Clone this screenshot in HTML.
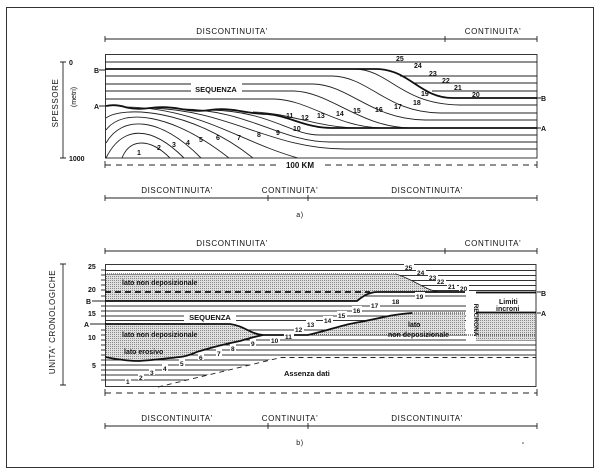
<!DOCTYPE html>
<html><head><meta charset="utf-8"><style>
html,body{margin:0;padding:0;background:#fff}
svg{display:block}
text{font-family:"Liberation Sans",sans-serif;fill:#111}
.t{font-size:8px;letter-spacing:0.6px}
.n{font-size:7px;font-weight:bold}
.b{font-size:7px;font-weight:bold}
</style></head><body>
<svg width="600" height="470" viewBox="0 0 600 470" xmlns="http://www.w3.org/2000/svg">
<defs>
<pattern id="dots" width="2" height="2" patternUnits="userSpaceOnUse">
<rect width="2" height="2" fill="#e0e0e0"/><rect width="1" height="1" fill="#8a8a8a"/>
</pattern>
</defs>
<rect x="6.5" y="7.5" width="587" height="460" fill="none" stroke="#333" stroke-width="1"/>

<!-- ========== PANEL A ========== -->
<g stroke="#222" fill="none" stroke-width="0.9">
<path d="M105,39 H537 M105,36 V42 M445,36 V42 M537,36 V42"/>
<path d="M105,198 H537 M105,195 V201 M268,195 V201 M308,195 V201 M537,195 V201"/>
<path d="M63,62 V158 M60,62 H66 M60,158 H66"/>
<path d="M105,165 H537" stroke-dasharray="6,5"/>
<path d="M105,161 V168 M537,161 V168"/>
</g>
<text class="t" x="232" y="34" text-anchor="middle">DISCONTINUITA'</text>
<text class="t" x="493" y="34" text-anchor="middle">CONTINUITA'</text>
<text class="t" x="177" y="193" text-anchor="middle">DISCONTINUITA'</text>
<text class="t" x="290" y="193" text-anchor="middle">CONTINUITA'</text>
<text class="t" x="427" y="193" text-anchor="middle">DISCONTINUITA'</text>
<text class="t" x="300" y="217" text-anchor="middle" style="font-size:7px">a)</text>
<text class="t" x="58" y="103" text-anchor="middle" transform="rotate(-90 58 103)">SPESSORE</text>
<text x="76" y="97" text-anchor="middle" transform="rotate(-90 76 97)" style="font-size:7px">(metri)</text>
<text class="n" x="69" y="65">0</text>
<text class="n" x="69" y="161">1000</text>
<text class="n" x="94" y="73">B</text>
<text class="n" x="94" y="109">A</text>
<text class="n" x="541" y="101">B</text>
<text class="n" x="541" y="131">A</text>
<path d="M99,70 H105 M99,106 H105 M537,98 H541 M537,128 H541" stroke="#222"/>
<rect x="276" y="160" width="48" height="10" fill="#fff"/>
<text class="n" x="300" y="168" text-anchor="middle" style="font-size:8px">100 KM</text>

<g stroke="#222" fill="none" stroke-width="0.9">
<rect x="105.5" y="54.5" width="431.5" height="103.5"/>
<path d="M105,62 H537"/>
<path d="M105,76 H332 M105,84 H313 M105,91 H294 M105,99 H274"/>
<path d="M400,76 H537 M415,83 H537 M432,91 H537"/>
<path d="M460,105 H537 M440,113 H537 M425,120 H537 M320,135 H537 M330,142 H537 M345,149 H537"/>
<!-- upper curves -->
<path d="M355,69 C390,70 400,104 460,105"/>
<path d="M332,76 C370,77 385,112 440,113"/>
<path d="M313,84 C350,85 370,119 425,120"/>
<path d="M294,91 C330,92 360,127 410,128"/>
<path d="M274,99 C310,100 335,127 382,128"/>
<path d="M253,112 C290,113 315,127 357,128"/>
<!-- lower arches -->
<path d="M122,158 C130,138 150,138 170,158"/>
<path d="M106,158 C122,126 150,124 184,158"/>
<path d="M106,143 C122,115 160,116 201,158"/>
<path d="M106,130 C122,108 170,112 229,158"/>
<path d="M106,118 C122,106 190,108 253,158"/>
<path d="M125,107 C200,108 240,142 298,158"/>
<path d="M150,108 C230,110 270,149 345,149"/>
<path d="M181,109 C250,110 280,142 330,142"/>
<path d="M210,110 C270,111 290,135 320,135"/>
</g>
<rect x="191" y="83" width="51" height="11" fill="#fff"/>
<text class="b" x="216" y="92" text-anchor="middle" style="font-size:7.5px">SEQUENZA</text>
<g stroke="#111" fill="none" stroke-width="1.8">
<path d="M105,69 H377 C410,70 420,98 453,98 H537"/>
<path d="M106,106 Q115,104 125,107 T150,108 T181,109 T210,110 T240,111 T267,114 C290,116 305,128 332,128 H537"/>
</g>
<g class="n">
<text x="137" y="155">1</text><text x="157" y="150">2</text><text x="172" y="147">3</text><text x="186" y="145">4</text>
<text x="199" y="142">5</text><text x="216" y="140">6</text><text x="237" y="140">7</text><text x="257" y="137">8</text>
<text x="276" y="135">9</text><text x="293" y="131">10</text><text x="286" y="118">11</text><text x="301" y="120">12</text>
<text x="317" y="118">13</text><text x="336" y="116">14</text><text x="353" y="113">15</text><text x="375" y="112">16</text>
<text x="394" y="109">17</text><text x="413" y="105">18</text><text x="421" y="96">19</text><text x="472" y="97">20</text>
<text x="454" y="90">21</text><text x="442" y="83">22</text><text x="429" y="76">23</text><text x="414" y="68">24</text>
<text x="396" y="61">25</text>
</g>

<!-- ========== PANEL B ========== -->
<g stroke="#222" fill="none" stroke-width="0.9">
<path d="M105,251 H537 M105,248 V254 M445,248 V254 M537,248 V254"/>
<path d="M105,426 H537 M105,423 V429 M268,423 V429 M308,423 V429 M537,423 V429"/>
<path d="M63,264 V385 M60,264 H66 M60,385 H66"/>
<path d="M105,393 H537" stroke-dasharray="6,5"/>
<path d="M105,389 V396 M537,389 V396"/>
</g>
<text class="t" x="232" y="246" text-anchor="middle">DISCONTINUITA'</text>
<text class="t" x="493" y="246" text-anchor="middle">CONTINUITA'</text>
<text class="t" x="177" y="421" text-anchor="middle">DISCONTINUITA'</text>
<text class="t" x="290" y="421" text-anchor="middle">CONTINUITA'</text>
<text class="t" x="427" y="421" text-anchor="middle">DISCONTINUITA'</text>
<text class="t" x="300" y="445" text-anchor="middle" style="font-size:7px">b)</text>
<circle cx="523" cy="443" r="0.8" fill="#444"/>
<text class="t" x="55" y="322" text-anchor="middle" transform="rotate(-90 55 322)">UNITA' CRONOLOGICHE</text>
<g class="n">
<text x="88" y="269">25</text><text x="88" y="292">20</text><text x="86" y="304">B</text><text x="88" y="316">15</text>
<text x="84" y="327">A</text><text x="88" y="340">10</text><text x="92" y="368">5</text>
<text x="541" y="296">B</text><text x="541" y="316">A</text>
</g>
<path d="M92,301 H105 M90,324 H105 M537,292 H541 M537,313 H541" stroke="#222"/>
<!-- rows -->
<g stroke="#333" stroke-width="1.1">
<path d="M105,270.5 H536 M105,275.5 H536 M105,280.5 H536 M105,285.5 H536 M105,290.5 H536 M105,296 H536 M105,306 H536 M105,311 H536 M105,316 H536 M105,320.5 H536 M105,330 H536 M105,335 H536 M105,340 H536 M105,345 H536 M105,350 H536 M105,355 H536 M105,360 H536 M105,365 H536 M105,370 H536 M105,375 H536 M105,380 H536"/>
<path d="M101,270 H105 M101,275 H105 M101,280 H105 M101,285 H105 M101,290 H105 M101,296 H105 M101,306 H105 M101,311 H105 M101,316 H105 M101,330 H105 M101,335 H105 M101,340 H105 M101,345 H105 M101,350 H105 M101,355 H105 M101,360 H105 M101,365 H105 M101,370 H105 M101,375 H105 M101,380 H105"/>
</g>
<!-- stipple regions -->
<g fill="url(#dots)" stroke="none">
<path d="M105,274 H396 C415,280 425,290 439,292 H378 C368,292 362,297 357,301 H105 Z"/>
<path d="M105,324 H230 C245,326 250,334 263,335 C258,336 250,338 240,341 C225,344 210,348 200,351 C195,352 190,356 180,357 C170,358 155,360 139,361 C130,361 120,360 105,357 Z"/>
<path d="M308,335 C330,330 345,324 360,322 C380,318 395,314 412,313 H465 V335 Z"/>
<path d="M476,313 H536 V340 H476 Z"/>
</g>
<!-- assenza dati -->
<path d="M158,387 L281,357 H536 V386 H158 Z" fill="#fff"/>
<rect x="466" y="294" width="10" height="50" fill="#fff"/>
<rect x="476" y="294" width="60" height="18" fill="#fff"/>
<g stroke="#222" fill="none" stroke-width="0.9">
<rect x="105.5" y="264.5" width="430.5" height="122"/>
<path d="M158,387 L281,357.5 H536" stroke-dasharray="5,4"/>
<path d="M105,274 H396" stroke-dasharray="1,1"/>
<path d="M396,274 C415,280 425,290 439,292"/>
<path d="M412,313 H465 M308,335 H536" stroke-dasharray="1,1"/>
</g>
<g stroke="#111" fill="none" stroke-width="1.8">
<path d="M105,292 H370" stroke-dasharray="6,4"/>
<path d="M105,301 H357 C362,297 368,292 378,292 H465 M476,292.5 H536"/>
<path d="M105,324 H230 C245,326 250,334 263,335 H308 C330,330 345,324 360,322 C380,318 395,314 412,313 M476,312.5 H536"/>
<path d="M105,357 C120,360 130,361 139,361 C155,360 170,358 180,357 C190,356 195,352 200,351 C210,348 225,344 240,341 C250,338 258,336 263,335"/>
</g>
<rect x="184" y="312" width="52" height="10" fill="#fff"/>
<text class="b" x="210" y="320" text-anchor="middle" style="font-size:7.5px">SEQUENZA</text>
<g class="b">
<text x="122" y="285">lato non deposizionale</text>
<text x="122" y="337">lato non deposizionale</text>
<text x="124" y="354">lato erosivo</text>
<text x="408" y="327">lato</text>
<text x="388" y="337">non deposizionale</text>
<text x="284" y="376" style="font-size:7.5px">Assenza dati</text>
<text x="499" y="304">Limiti</text>
<text x="496" y="311" text-decoration="underline">incroni</text>
<text x="474" y="320" text-anchor="middle" transform="rotate(90 474 320)" style="font-size:6.5px">RECRONA</text>
</g>
<g class="n" style="font-size:6.5px">
<g fill="#fff">
<rect x="125" y="377" width="6" height="7"/><rect x="138" y="373" width="6" height="7"/><rect x="149" y="368" width="6" height="7"/>
<rect x="162" y="364" width="6" height="7"/><rect x="179" y="359" width="6" height="7"/><rect x="198" y="353" width="6" height="7"/>
<rect x="216" y="349" width="6" height="7"/><rect x="230" y="344" width="6" height="7"/><rect x="250" y="339" width="6" height="7"/>
<rect x="270" y="336" width="10" height="7"/><rect x="284" y="332" width="10" height="7"/><rect x="294" y="325" width="10" height="7"/>
<rect x="306" y="320" width="10" height="7"/><rect x="323" y="316" width="10" height="7"/><rect x="337" y="311" width="10" height="7"/>
<rect x="352" y="306" width="10" height="7"/><rect x="370" y="301" width="10" height="7"/><rect x="391" y="297" width="10" height="7"/>
<rect x="415" y="292" width="10" height="7"/><rect x="459" y="284" width="10" height="7"/><rect x="447" y="282" width="10" height="7"/>
<rect x="436" y="277" width="10" height="7"/><rect x="428" y="273" width="10" height="7"/><rect x="416" y="268" width="10" height="7"/>
<rect x="404" y="263" width="10" height="7"/>
</g>
<text x="126" y="384">1</text><text x="139" y="380">2</text><text x="150" y="375">3</text><text x="163" y="371">4</text>
<text x="180" y="366">5</text><text x="199" y="360">6</text><text x="217" y="356">7</text><text x="231" y="351">8</text>
<text x="251" y="346">9</text><text x="271" y="343">10</text><text x="285" y="339">11</text><text x="295" y="332">12</text>
<text x="307" y="327">13</text><text x="324" y="323">14</text><text x="338" y="318">15</text><text x="353" y="313">16</text>
<text x="371" y="308">17</text><text x="392" y="304">18</text><text x="416" y="299">19</text><text x="460" y="291">20</text>
<text x="448" y="289">21</text><text x="437" y="284">22</text><text x="429" y="280">23</text><text x="417" y="275">24</text>
<text x="405" y="270">25</text>
</g>
</svg>
</body></html>
